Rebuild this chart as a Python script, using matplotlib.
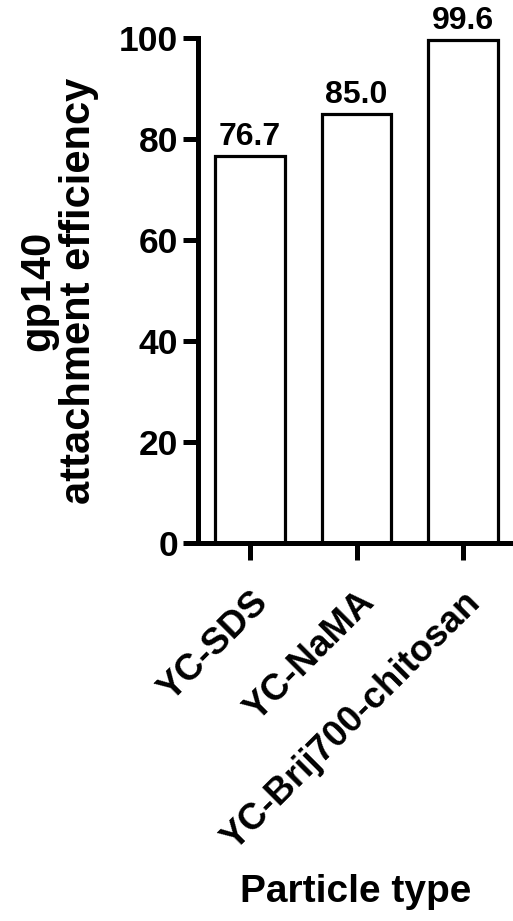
import matplotlib
matplotlib.use("Agg")
import matplotlib.pyplot as plt

plt.rcParams['font.family'] = ['Liberation Sans', 'DejaVu Sans']
plt.rcParams['font.weight'] = 'bold'

# data
particles = ["YC-SDS", "YC-NaMA", "YC-Brij700-chitosan"]
efficiency = [76.7, 85.0, 99.6]
yticks = [0, 20, 40, 60, 80, 100]

fig = plt.figure(figsize=(5.13, 9.21), dpi=100)
ax = fig.add_axes([0.385, 0.4104, 0.615, 0.5483])

x = list(range(len(particles)))
bars = ax.bar(x, efficiency, width=0.65, color='white', edgecolor='black', linewidth=2.3)

# value labels above bars
for xi, v in zip(x, efficiency):
    ax.text(xi, v + 0.8, f"{v:.1f}", ha='center', va='bottom', fontsize=23,
            fontweight='bold', clip_on=False)

ax.set_xlim(-0.494, 2.47)
ax.set_ylim(0, 100)
ax.set_yticks(yticks)
ax.set_xticks(x)
ax.set_xticklabels(particles, rotation=45, ha='right', va='top', rotation_mode='anchor')

for s in ['top', 'right']:
    ax.spines[s].set_visible(False)
for s in ['left', 'bottom']:
    ax.spines[s].set_linewidth(3.6)

ax.tick_params(axis='y', length=11, width=3.6, labelsize=25.5, pad=3)
ax.tick_params(axis='x', length=12, width=3.6, labelsize=26.5, pad=18)

ax.set_ylabel("gp140\nattachment efficiency", fontsize=30, fontweight='bold',
              labelpad=14, linespacing=1.05)
ax.set_xlabel("Particle type", fontsize=28, fontweight='bold', va='top')
ax.xaxis.set_label_coords(0.5, -0.655)

plt.savefig("out.png", dpi=100)
